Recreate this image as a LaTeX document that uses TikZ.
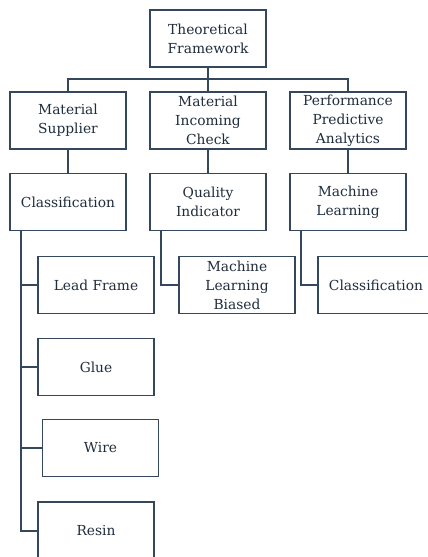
\documentclass[tikz,border=0pt]{standalone}
\usepackage{fontspec}
\setmainfont{DejaVu Serif}
\usepackage{xcolor}
\definecolor{lc}{HTML}{34475C}
\definecolor{tc}{HTML}{1F2D3D}
\begin{document}
\begin{tikzpicture}[x=1pt,y=-1pt,
  box/.style={draw=lc, line width=1.9pt, text=tc, minimum width=116pt, minimum height=57pt,
    inner sep=0pt, align=center, font=\fontsize{13.8}{19}\selectfont, fill=white},
  link/.style={draw=lc, line width=1.9pt}]
\useasboundingbox (0,0) rectangle (428,557);
\node[box] (top) at (208,38.5) {Theoretical\\Framework};
\node[box] (ms) at (68,120.5) {Material\\Supplier};
\node[box] (mic) at (208,120.5) {Material\\Incoming\\Check};
\node[box] (ppa) at (348,120.5) {Performance\\Predictive\\Analytics};
\node[box] (cls) at (68,202) {Classification};
\node[box] (qi) at (208,202) {Quality\\Indicator};
\node[box] (ml) at (348,202) {Machine\\Learning};
\node[box] (lf) at (96,285) {Lead Frame};
\node[box] (mlb) at (237,285) {Machine\\Learning\\Biased};
\node[box] (cls2) at (376,285) {Classification};
\node[box] (glue) at (96,367) {Glue};
\node[box] (wire) at (100.5,448) {Wire};
\node[box, minimum height=58pt] (resin) at (96,531) {Resin};
\coordinate (bus) at (208,79);
\draw[link] (top) -- (mic);
\draw[link] (ms.north) |- (bus) -| (ppa.north);
\draw[link] (ms) -- (cls);
\draw[link] (mic) -- (qi);
\draw[link] (ppa) -- (ml);
\coordinate (s1) at ([xshift=12pt]cls.south west);
\draw[link] (s1) |- (lf.west);
\draw[link] (s1) |- (glue.west);
\draw[link] (s1) |- (wire.west);
\draw[link] (s1) |- (resin.west);
\draw[link] ([xshift=12pt]qi.south west) |- (mlb.west);
\draw[link] ([xshift=12pt]ml.south west) |- (cls2.west);
\end{tikzpicture}
\end{document}
